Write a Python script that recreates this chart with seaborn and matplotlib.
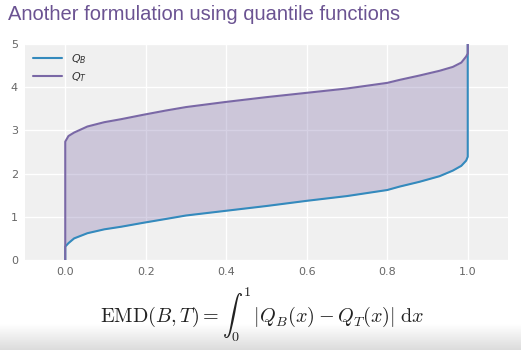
import numpy as np
import pandas as pd
import matplotlib
matplotlib.use("Agg")
import matplotlib.pyplot as plt
from matplotlib.colors import LinearSegmentedColormap
import seaborn as sns

# ---- data ----
quantile_x = [0.0, 0.0, 0.008, 0.022, 0.055, 0.097, 0.139, 0.193, 0.25, 0.3, 0.4,
              0.5, 0.6, 0.7, 0.8, 0.831, 0.88, 0.93, 0.963, 0.984, 0.996, 1.0, 1.0]
q_b = [0.0, 0.31, 0.39, 0.50, 0.62, 0.71, 0.77, 0.86, 0.95, 1.03, 1.14,
       1.25, 1.37, 1.48, 1.62, 1.70, 1.81, 1.94, 2.07, 2.18, 2.30, 2.39, 5.0]
q_t = [0.0, 2.74, 2.87, 2.95, 3.09, 3.19, 3.26, 3.36, 3.46, 3.54, 3.66,
       3.77, 3.87, 3.97, 4.10, 4.17, 4.27, 4.38, 4.47, 4.57, 4.71, 4.78, 5.0]
series_labels = [r"$Q_B$", r"$Q_T$"]
x_ticks = [0.0, 0.2, 0.4, 0.6, 0.8, 1.0]
y_ticks = [0, 1, 2, 3, 4, 5]
title_text = "Another formulation using quantile functions"
formula_text = r"$\mathrm{EMD}(B,T) = \int_0^1 \,|Q_B(x) - Q_T(x)|\;\mathrm{d}x$"

blue = "#348ABD"
purple = "#7A68A6"

sns.set_theme(style="darkgrid", rc={
    "axes.facecolor": "#f0f0f0",
    "grid.color": "white",
    "grid.linewidth": 1.0,
    "xtick.color": "#666666",
    "ytick.color": "#666666",
})
plt.rcParams["mathtext.fontset"] = "dejavusans"

df = pd.DataFrame({
    "x": quantile_x * 2,
    "y": q_b + q_t,
    "series": [series_labels[0]] * len(q_b) + [series_labels[1]] * len(q_t),
})

fig = plt.figure(figsize=(5.21, 3.5), dpi=100)
fig.patch.set_facecolor("white")

# slide shadow at the bottom
gax = fig.add_axes([0, 0, 1, 26 / 350], zorder=-5)
cmap = LinearSegmentedColormap.from_list("g", ["#dcdcdc", "#ffffff"])
gax.imshow(np.linspace(0, 1, 60).reshape(-1, 1), aspect="auto", cmap=cmap, origin="lower")
gax.axis("off")

ax = fig.add_axes([25 / 521, 1 - 260 / 350, (508 - 25) / 521, (260 - 44) / 350])

ax.fill_between(quantile_x, q_b, q_t, color=purple, alpha=0.3, linewidth=0)
sns.lineplot(data=df, x="x", y="y", hue="series", estimator=None, sort=False,
             palette=[blue, purple], linewidth=1.5, ax=ax)

ax.set_xlim(-0.1, 1.1)
ax.set_ylim(0, 5)
ax.set_xticks(x_ticks)
ax.set_xticklabels([f"{t:.1f}" for t in x_ticks])
ax.set_yticks(y_ticks)
ax.set_xlabel("")
ax.set_ylabel("")
ax.tick_params(axis="both", labelsize=8, length=2, pad=3, color="#999999")
for s in ax.spines.values():
    s.set_visible(False)

leg = ax.legend(loc="upper left", frameon=False, fontsize=8, handlelength=2.6,
                borderaxespad=0.3, labelspacing=0.4)
for t in leg.get_texts():
    t.set_color("#333333")

fig.text(8 / 521, 1 - 15 / 350, title_text, color="#6b5392", fontsize=14.5,
         family="Liberation Sans", va="center", ha="left")

fig.text(262 / 521, 1 - 315 / 350, formula_text, fontsize=14.5, ha="center",
         va="center", color="#222222", math_fontfamily="cm")

fig.savefig("out.png", dpi=100, facecolor="white")
